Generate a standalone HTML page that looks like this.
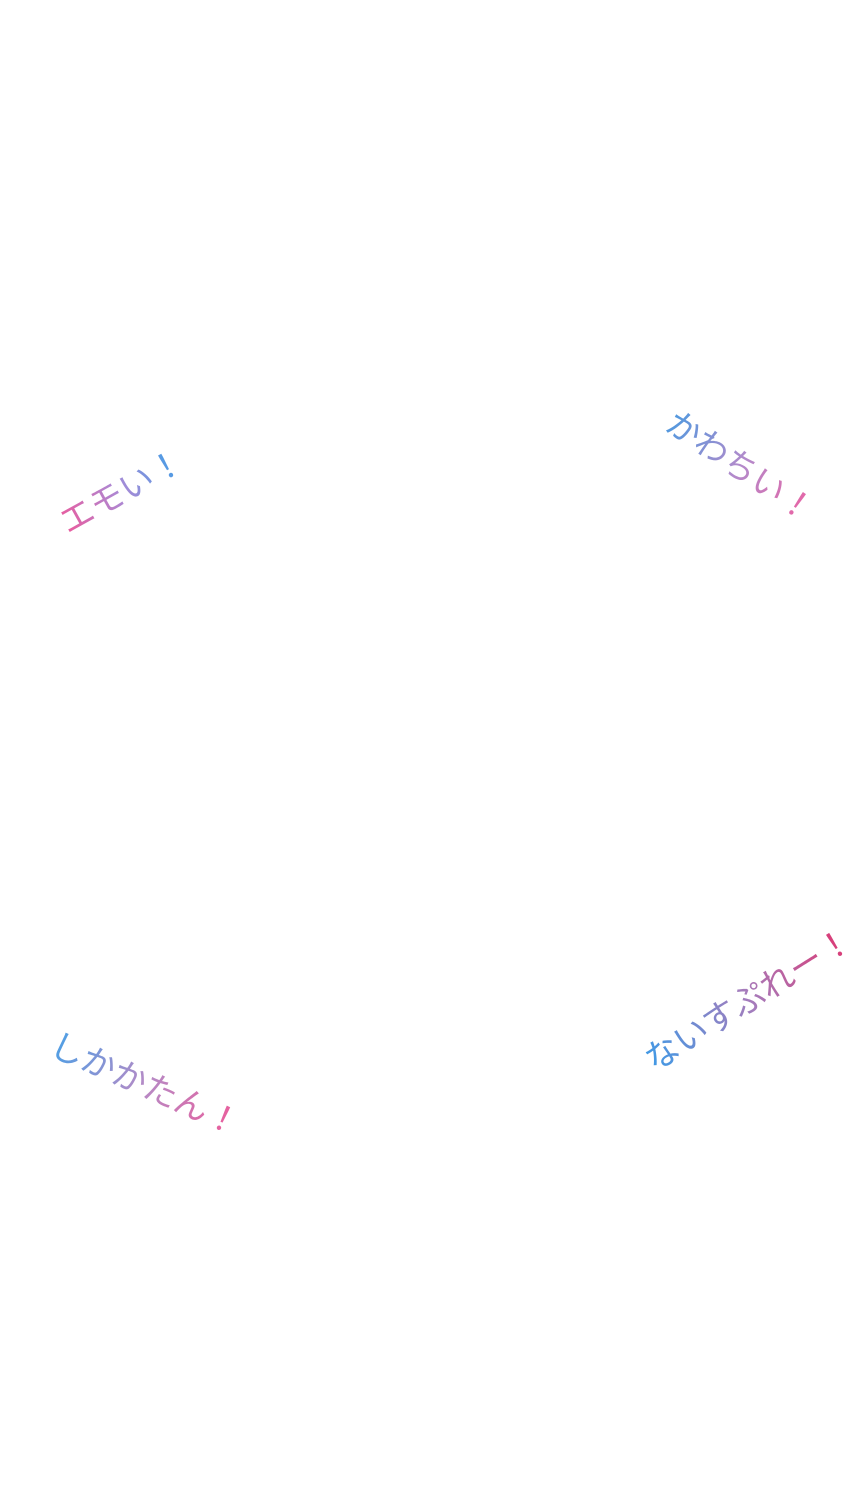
<!DOCTYPE html>
<html><head><meta charset="utf-8"><style>
html,body{margin:0;padding:0;background:#fff;width:860px;height:1507px;overflow:hidden;position:relative}
.t{position:absolute;white-space:nowrap;font-family:"Liberation Sans","Noto Sans CJK JP",sans-serif;font-weight:400;font-size:34px;line-height:42px;height:42px;text-align:center;
-webkit-background-clip:text;background-clip:text;color:transparent;-webkit-text-fill-color:transparent;transform-origin:center center}
</style></head><body>
<div class="t" style="left:52px;top:471px;width:140px;transform:rotate(-29deg);background-image:linear-gradient(90deg,#ec5a9c,#a98ad6,#3aa0e8)">エモい！</div>
<div class="t" style="left:650px;top:446px;width:180px;transform:rotate(34deg);background-image:linear-gradient(90deg,#4a9ae0,#b38acb,#ef5fa0)">かわちい！</div>
<div class="t" style="left:628px;top:979px;width:242px;transform:rotate(-32deg);background-image:linear-gradient(90deg,#3d9ae6,#a57cbc,#e0356f)">ないすぷれー！</div>
<div class="t" style="left:41px;top:1064px;width:208px;transform:rotate(24deg);background-image:linear-gradient(90deg,#4aa0e6,#b68ac6,#ef5a98)">しかかたん！</div>
</body></html>
